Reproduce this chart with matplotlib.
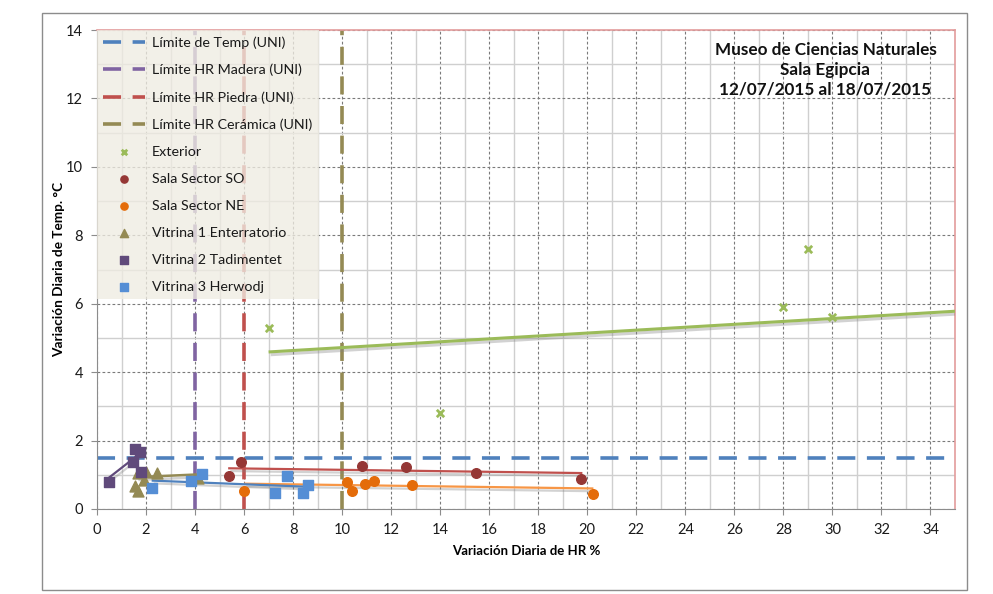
# Variación diaria de HR vs Temp - Museo de Ciencias Naturales, Sala Egipcia
import matplotlib
matplotlib.use('Agg')
import matplotlib.pyplot as plt
import matplotlib.patheffects as pe
from matplotlib.patches import Rectangle
import numpy as np

plt.rcParams['font.family'] = ['Lato', 'DejaVu Sans']

# ---------------------------------------------------------------------------
# data
# ---------------------------------------------------------------------------
ext_x = [7.0, 14.0, 28.0, 29.0, 30.0]
ext_y = [5.3, 2.8, 5.9, 7.6, 5.6]

so_x = [5.4, 5.86, 10.8, 12.6, 15.45, 19.75]
so_y = [0.96, 1.37, 1.26, 1.24, 1.06, 0.89]

ne_x = [6.0, 10.2, 10.4, 10.95, 11.3, 12.85, 20.25]
ne_y = [0.53, 0.80, 0.54, 0.72, 0.83, 0.69, 0.44]

v1_x = [1.55, 1.66, 1.69, 1.9, 2.0, 2.46, 4.1]
v1_y = [0.67, 0.54, 1.04, 0.85, 1.09, 1.06, 0.9]

v2_x = [0.5, 1.48, 1.55, 1.76, 1.8]
v2_y = [0.8, 1.38, 1.75, 1.66, 1.07]

v3_x = [2.25, 3.84, 4.3, 7.27, 7.77, 8.42, 8.6]
v3_y = [0.60, 0.82, 1.01, 0.46, 0.95, 0.48, 0.70]

# trend lines (start/end) as drawn on the chart
trend_x = {'ext': [7.0, 35.0], 'so': [5.35, 19.8], 'ne': [6.0, 20.25],
           'v1': [1.6, 4.1], 'v2': [0.46, 1.82], 'v3': [2.23, 8.6]}
trend_y = {'ext': [4.59, 5.78], 'so': [1.19, 1.05], 'ne': [0.74, 0.60],
           'v1': [0.93, 1.01], 'v2': [0.90, 1.66], 'v3': [0.83, 0.65]}

lim_temp = 1.5
lim_madera = 4
lim_piedra = 6
lim_ceramica = 10

# ---------------------------------------------------------------------------
# figure
# ---------------------------------------------------------------------------
fig = plt.figure(figsize=(9.93, 5.94), dpi=100)
fig.patches.append(Rectangle((42 / 993, 4 / 594), 925 / 993, 577 / 594,
                             transform=fig.transFigure, fill=False,
                             edgecolor='#8c8c8c', lw=1.0))
ax = fig.add_axes([97 / 993, 85 / 594, 858 / 993, 479 / 594])

ax.set_xlim(0, 35)
ax.set_ylim(0, 14)
ax.set_xticks(np.arange(0, 35, 2))
ax.set_yticks(np.arange(0, 15, 2))
ax.set_xticks(np.arange(1, 35, 2), minor=True)
ax.set_yticks(np.arange(1, 14, 2), minor=True)
ax.grid(which='major', color='#7a7a7a', ls=(0, (2.5, 2)), lw=0.8)
ax.grid(which='minor', color='#cfcfcf', ls='-', lw=1.0)
ax.set_axisbelow(True)
ax.tick_params(which='major', direction='out', length=4, color='#8c8c8c',
               labelsize=10.5, labelcolor='#1a1a1a', pad=6)
ax.tick_params(which='minor', length=0)
for s in ['left', 'bottom']:
    ax.spines[s].set_color('#8c8c8c')
for s in ['top', 'right']:
    ax.spines[s].set_color('#e39c9c')
    ax.spines[s].set_linewidth(1.2)

shadow = [pe.SimpleLineShadow(offset=(1.5, -2), shadow_color='#808080', alpha=0.35),
          pe.Normal()]

# limit lines
dash = (0, (5, 3.2))
ax.axhline(lim_temp, color='#4f81bd', lw=2.6, ls=dash, label='Límite de Temp (UNI)')
ax.axvline(lim_madera, color='#8064a2', lw=2.6, ls=dash, label='Límite HR Madera (UNI)')
ax.axvline(lim_piedra, color='#c0504d', lw=2.6, ls=dash, label='Límite HR Piedra (UNI)')
ax.axvline(lim_ceramica, color='#948a54', lw=2.6, ls=dash, label='Límite HR Cerámica (UNI)')

# trend lines
trend_col = {'ext': '#9bbb59', 'so': '#c0504d', 'ne': '#f79646',
             'v1': '#948a54', 'v2': '#604a7b', 'v3': '#4f81bd'}
trend_lw = {'ext': 2.2, 'so': 1.6, 'ne': 1.6, 'v1': 1.8, 'v2': 1.6, 'v3': 1.6}
for k in ['ext', 'so', 'ne', 'v1', 'v2', 'v3']:
    ax.plot(trend_x[k], trend_y[k], color=trend_col[k], lw=trend_lw[k],
            solid_capstyle='butt', path_effects=shadow, zorder=3)

# series
ax.scatter(ext_x, ext_y, marker='x', s=28, color='#9bbb59', lw=2, zorder=4, label='Exterior')
ax.scatter(so_x, so_y, marker='o', s=48, color='#953735', zorder=4, label='Sala Sector SO')
ax.scatter(ne_x, ne_y, marker='o', s=48, color='#e46c0a', zorder=4, label='Sala Sector NE')
ax.scatter(v1_x, v1_y, marker='^', s=62, color='#948a54', zorder=4, label='Vitrina 1 Enterratorio')
ax.scatter(v2_x, v2_y, marker='s', s=55, color='#604a7b', zorder=4, label='Vitrina 2 Tadimentet')
ax.scatter(v3_x, v3_y, marker='s', s=55, color='#558ed5', zorder=4, label='Vitrina 3 Herwodj')

leg = ax.legend(loc='upper left', bbox_to_anchor=(0, 1), fontsize=10.3,
                frameon=True, fancybox=False, facecolor='#efece2',
                edgecolor='none', framealpha=0.78, labelspacing=1.04,
                handlelength=2.9, handletextpad=0.5, borderpad=0.45,
                borderaxespad=0, scatterpoints=1, markerscale=0.75)
leg.set_zorder(2.5)
for t in leg.get_texts():
    t.set_color('#1a1a1a')

ax.text(0.849, 0.975, 'Museo de Ciencias Naturales\nSala Egipcia\n12/07/2015 al 18/07/2015',
        transform=ax.transAxes, ha='center', va='top', fontsize=12.3,
        fontweight='bold', linespacing=1.3, color='#111111')

ax.set_xlabel('Variación Diaria de HR %', fontsize=9.5, fontweight='bold', labelpad=6)
ax.set_ylabel('Variación Diaria de Temp. °C', fontsize=9.8, fontweight='bold', labelpad=1)

fig.savefig('out.png', dpi=100)
